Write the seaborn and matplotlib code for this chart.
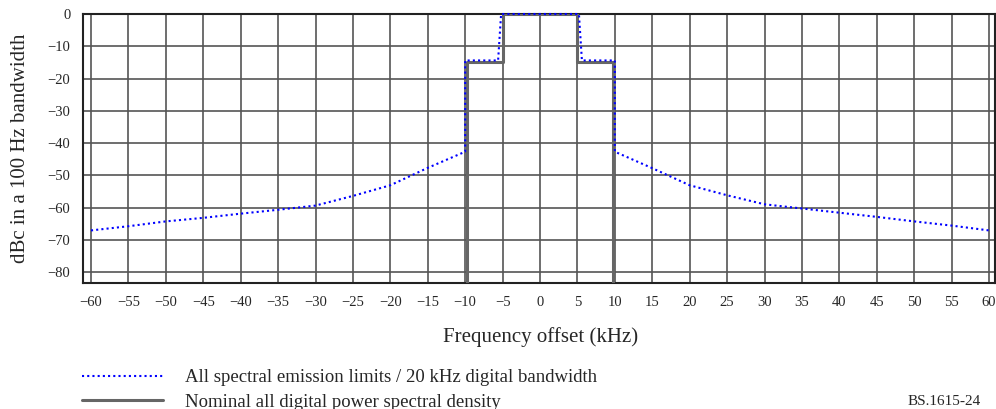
import numpy as np
import pandas as pd
import matplotlib
matplotlib.use('Agg')
import matplotlib.pyplot as plt
import seaborn as sns

# Spectral emission mask (dotted blue), kHz / dBc
mask_x = [-60, -55, -50, -45, -40, -35, -30, -25, -20, -15, -10, -10, -5.6, -5.2,
          5.2, 5.6, 10, 10, 15, 20, 25, 30, 35, 40, 45, 50, 55, 60]
mask_y = [-67.1, -65.8, -64.3, -63.2, -61.9, -60.7, -59.4, -56.4, -53.1, -47.7, -42.7, -14.4, -14.4, 0,
          0, -14.4, -14.4, -42.7, -47.8, -53.1, -56.2, -59.0, -60.3, -61.6, -62.9, -64.3, -65.6, -67.1]

# Nominal all digital PSD (solid grey)
psd_x = [-9.7, -9.7, -4.9, -4.9, 4.9, 4.9, 9.7, 9.7]
psd_y = [-90, -15, -15, 0, 0, -15, -15, -90]

x_ticks = list(range(-60, 61, 5))
y_ticks = list(range(0, -81, -10))

mask_label = 'All spectral emission limits / 20 kHz digital bandwidth'
psd_label = 'Nominal all digital power spectral density'

sns.set_style('white')
plt.rcParams['font.family'] = ['Liberation Serif', 'DejaVu Serif']

fig = plt.figure(figsize=(9.96, 4.09), dpi=100)
ax = fig.add_axes([83 / 996, 1 - 283 / 409, 912 / 996, 269 / 409])

psd_df = pd.DataFrame({'x': psd_x, 'y': psd_y})
mask_df = pd.DataFrame({'x': mask_x, 'y': mask_y})

sns.lineplot(data=psd_df, x='x', y='y', sort=False, estimator=None, ax=ax,
             color='#666666', lw=2.2, label=psd_label, zorder=3)
sns.lineplot(data=mask_df, x='x', y='y', sort=False, estimator=None, ax=ax,
             color='#0000ff', lw=1.5, linestyle=(0, (1, 1.5)), label=mask_label,
             zorder=4, clip_on=False)

ax.set_xlim(-61.07, 60.8)
ax.set_ylim(-83.4, 0)
ax.set_xticks(x_ticks)
ax.set_yticks(y_ticks)
ax.grid(True, color='#555555', lw=1.2)
ax.set_axisbelow(True)
for s in ax.spines.values():
    s.set_color('#222222')
    s.set_linewidth(1.5)
ax.tick_params(length=0, labelsize=10.5, pad=9)

ax.set_xlabel('Frequency offset (kHz)', fontsize=15)
ax.set_ylabel('dBc in a 100 Hz bandwidth', fontsize=15)
ax.xaxis.set_label_coords(0.502, -0.165)
ax.yaxis.set_label_coords(-0.058, 0.5)

handles, labels = ax.get_legend_handles_labels()
ax.get_legend().remove()
fig.legend(handles[::-1], labels[::-1], loc='upper left', bbox_to_anchor=(82 / 996, 1 - 369 / 409),
           frameon=False, fontsize=13.5, handlelength=4.3, handletextpad=1.2,
           borderpad=0, borderaxespad=0, labelspacing=0.4)

fig.text(908 / 996, 0.003, 'BS.1615-24', va='bottom', ha='left', fontsize=11)

fig.savefig('out.png', dpi=100)
